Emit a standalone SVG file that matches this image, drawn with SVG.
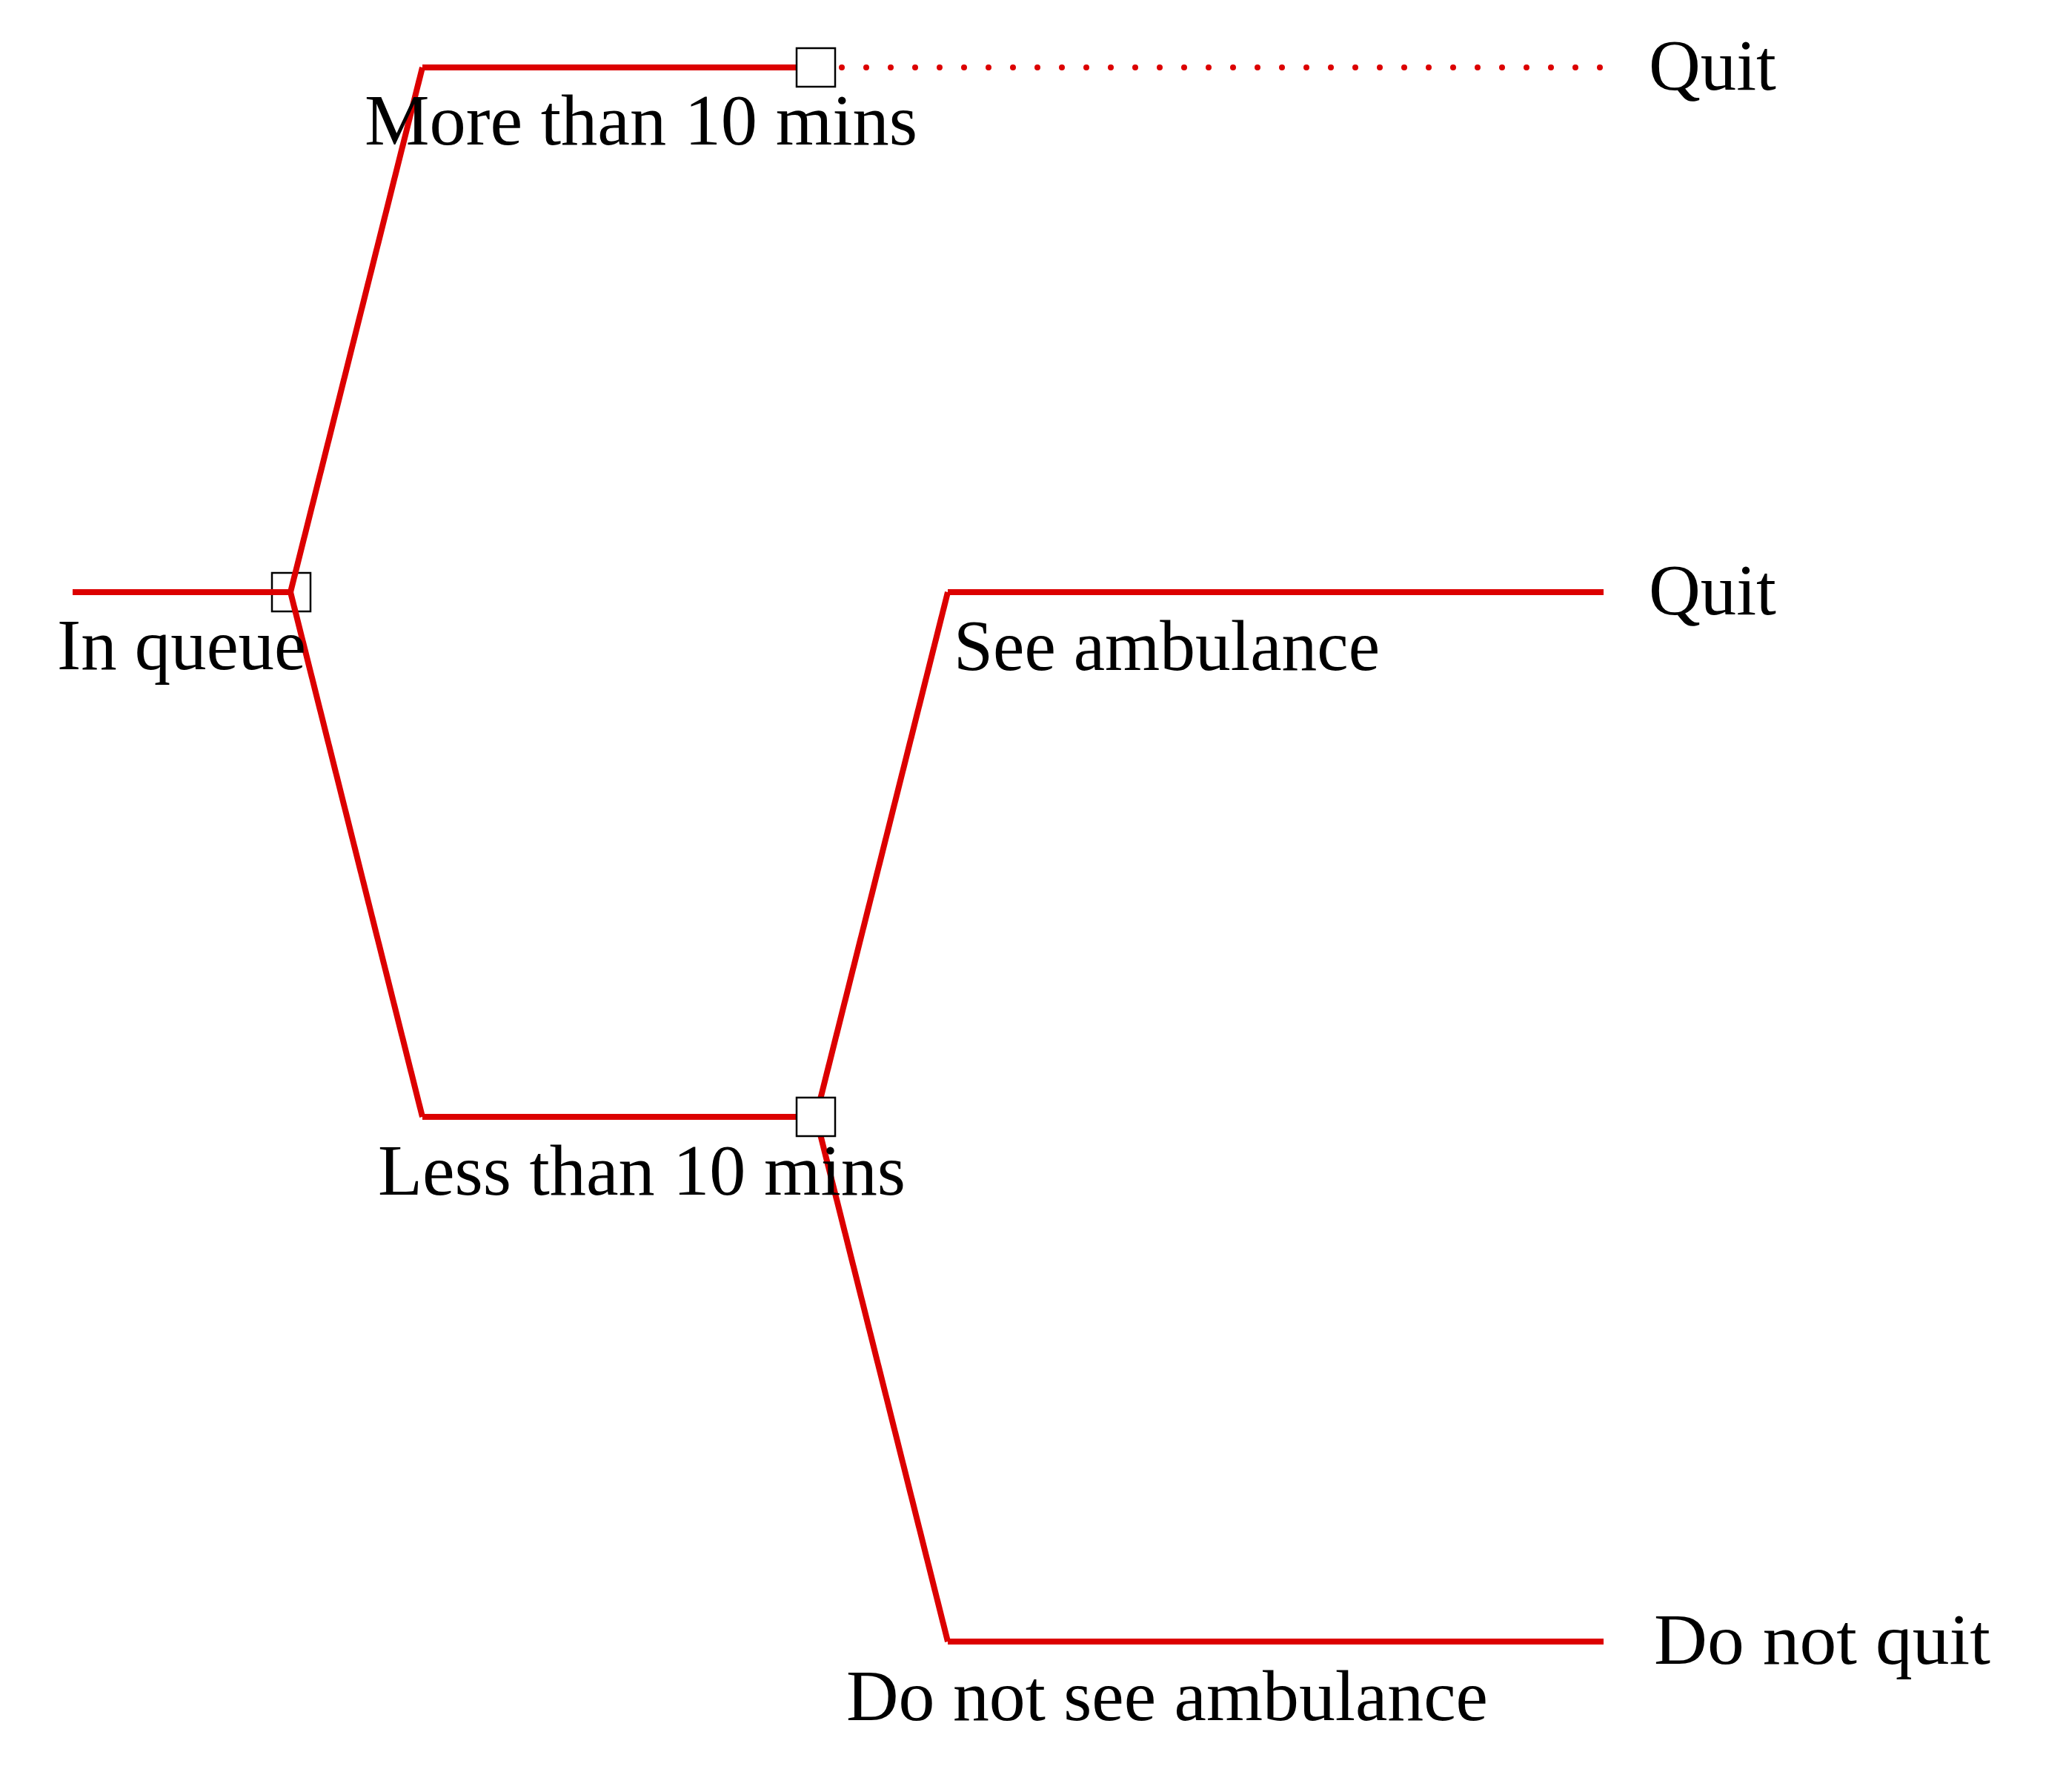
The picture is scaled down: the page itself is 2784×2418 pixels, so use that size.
<svg xmlns="http://www.w3.org/2000/svg" width="2784" height="2418" viewBox="0 0 2784 2418">
<style>
.e{stroke:#dc0000;stroke-width:8;fill:none;stroke-linecap:butt}
.d{stroke:#dc0000;stroke-width:8;fill:none;stroke-linecap:round;stroke-dasharray:0 33}
.sq{fill:#fff;stroke:#000;stroke-width:2.5}
.sqn{fill:none;stroke:#000;stroke-width:2.5}
text{font-family:"Liberation Serif","Times New Roman",serif;font-size:97px;fill:#000}
</style>
<rect width="2784" height="2418" fill="#fff"/>
<g id="root">
<rect class="sqn" x="367" y="773" width="52" height="52"/>
</g>
<g id="connectors">
<line class="e" x1="98" y1="799" x2="392" y2="799"/>
<line class="e" x1="392" y1="799" x2="570" y2="91"/>
<line class="e" x1="570" y1="91" x2="1101" y2="91"/>
<line class="e" x1="392" y1="799" x2="570" y2="1507"/>
<line class="e" x1="570" y1="1507" x2="1101" y2="1507"/>
<path class="d" d="M1136 91H2162"/>
<line class="e" x1="1101" y1="1507" x2="1279" y2="799"/>
<line class="e" x1="1279" y1="799" x2="2164" y2="799"/>
<line class="e" x1="1101" y1="1507" x2="1279" y2="2215"/>
<line class="e" x1="1279" y1="2215" x2="2164" y2="2215"/>
</g>
<g id="n-inqueue"><text x="77" y="903" textLength="336" lengthAdjust="spacingAndGlyphs">In queue</text></g>
<g id="n-more">
<rect class="sq" x="1075" y="65" width="52" height="52"/>
<text x="492" y="195" textLength="746" lengthAdjust="spacingAndGlyphs">More than 10 mins</text>
</g>
<g id="n-less">
<rect class="sq" x="1075" y="1481" width="52" height="52"/>
<text x="510" y="1612" textLength="712" lengthAdjust="spacingAndGlyphs">Less than 10 mins</text>
</g>
<g id="n-see"><text x="1287" y="904" textLength="575" lengthAdjust="spacingAndGlyphs">See ambulance</text></g>
<g id="n-notsee"><text x="1142" y="2321" textLength="866" lengthAdjust="spacingAndGlyphs">Do not see ambulance</text></g>
<g id="n-quit1"><text x="2225" y="121" textLength="172" lengthAdjust="spacingAndGlyphs">Quit</text></g>
<g id="n-quit2"><text x="2225" y="829" textLength="172" lengthAdjust="spacingAndGlyphs">Quit</text></g>
<g id="n-notquit"><text x="2232" y="2245" textLength="454" lengthAdjust="spacingAndGlyphs">Do not quit</text></g>
</svg>
